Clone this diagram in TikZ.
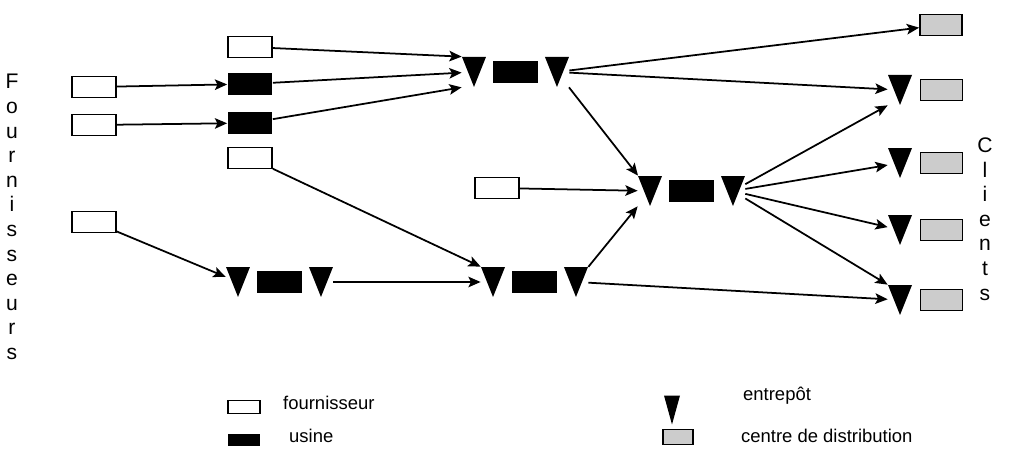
\documentclass[tikz,border=0pt]{standalone}
\usepackage{fontspec}
\setmainfont{Liberation Sans}
\usetikzlibrary{arrows.meta, positioning}

\begin{document}
\begin{tikzpicture}[x=0.02cm,y=-0.02cm,node distance=0.83cm,on grid,>={Stealth[length=7pt,width=6pt,inset=1.5pt]}]
    \tikzstyle{fourn}=[shape=rectangle,draw,line width=1pt,fill=white,minimum width=0.88cm,minimum height=0.42cm,inner sep=0pt]
    \tikzstyle{usine}=[shape=rectangle,fill=black,minimum width=0.9cm,minimum height=0.45cm,inner sep=0pt]
    \tikzstyle{centre}=[shape=rectangle,draw,line width=1pt,fill=black!20,minimum width=0.84cm,minimum height=0.42cm,inner sep=0pt]
    \tikzstyle{entrepot}=[shape=rectangle,minimum width=0.48cm,minimum height=0.6cm,inner sep=0pt,
        path picture={\fill (path picture bounding box.north west) -- (path picture bounding box.north east)
        -- (path picture bounding box.south) -- cycle;}]
    \tikzstyle{lettres}=[align=center,font=\fontsize{12}{14}\selectfont]
    \tikzstyle{legende}=[anchor=base west,font=\fontsize{10.5}{12}\selectfont]

    \useasboundingbox (0,0) rectangle (1019,459);

    % fournisseurs
    \node[fourn] (f1) at (94,87) {};
    \node[fourn] (f2) at (94,125) {};
    \node[fourn] (f3) at (94,222) {};
    \node[fourn] (f4) at (250,47) {};
    \node[usine] (u1) at (250,84) {};
    \node[usine] (u2) at (250,123) {};
    \node[fourn] (f5) at (250,158) {};
    \node[fourn] (f6) at (497,188) {};

    % usines avec entrepots
    \node[entrepot] (e1a) at (474,72) {};
    \node[usine, right of=e1a] (u3) {};
    \node[entrepot, right of=u3] (e1b) {};

    \node[entrepot] (e2a) at (238,282) {};
    \node[usine, right of=e2a] (u4) {};
    \node[entrepot, right of=u4] (e2b) {};

    \node[entrepot] (e3a) at (493,282) {};
    \node[usine, right of=e3a] (u5) {};
    \node[entrepot, right of=u5] (e3b) {};

    \node[entrepot] (e4a) at (650,191) {};
    \node[usine, right of=e4a] (u6) {};
    \node[entrepot, right of=u6] (e4b) {};

    % clients
    \node[centre] (c1) at (941,25) {};
    \node[entrepot] (e5) at (900,90) {};
    \node[centre, right of=e5] (c2) {};
    \node[entrepot] (e6) at (900,163) {};
    \node[centre, right of=e6] (c3) {};
    \node[entrepot] (e7) at (900,230) {};
    \node[centre, right of=e7] (c4) {};
    \node[entrepot] (e8) at (900,300) {};
    \node[centre, right of=e8] (c5) {};

    \node[lettres] (fournisseurs) at (12,217) {F\\o\\u\\r\\n\\i\\s\\s\\e\\u\\r\\s};
    \node[lettres] (clients) at (985,219) {C\\l\\i\\e\\n\\t\\s};

    \path[->,draw,line width=1pt]
    (f1) edge (u1)
    (f2) edge (u2)
    (f4) edge (e1a.north west)
    (u1) edge (e1a)
    (u2) edge (e1a.south west)
    (f5) edge (e3a.north west)
    (f3) edge (e2a)
    (e2b) edge (e3a)
    (e1b) edge (c1)
    (e1b) edge (e5)
    (e1b) edge (e4a)
    (f6) edge (e4a)
    (e3b) edge (e4a.south west)
    (e3b) edge (e8)
    (e4b) edge (e5.south west)
    (e4b) edge (e6)
    (e4b) edge (e7)
    (e4b) edge (e8.north west)
    ;

    % legende
    \node[fourn, minimum width=0.64cm, minimum height=0.26cm] (lf) at (244,407) {};
    \node[legende] (lft) at (277,410) {fournisseur};
    \node[usine, minimum width=0.64cm, minimum height=0.26cm] (lu) at (244,440) {};
    \node[legende] (lut) at (283,443) {usine};
    \node[entrepot, minimum width=0.32cm, minimum height=0.58cm] (le) at (672,410) {};
    \node[legende] (let) at (737,401) {entrepôt};
    \node[centre, minimum width=0.6cm, minimum height=0.3cm] (lc) at (678,437) {};
    \node[legende] (lct) at (735,443) {centre de distribution};
  \end{tikzpicture}
\end{document}
